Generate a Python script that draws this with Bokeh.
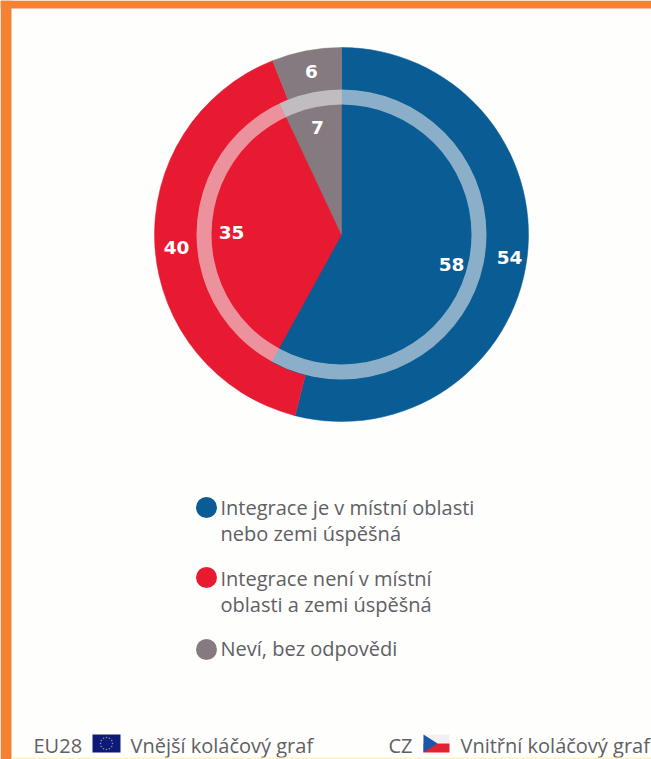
from bokeh.plotting import figure
from bokeh.models import Range1d
from bokeh.core.properties import value
from bokeh.embed import file_html
from bokeh.resources import INLINE
import math

# --- data ---
categories = ["Integrace je v místní oblasti nebo zemi úspěšná",
              "Integrace není v místní oblasti a zemi úspěšná",
              "Neví, bez odpovědi"]
outer_eu28 = [54, 40, 6]
inner_cz = [58, 35, 7]
colors = ["#0a5c94", "#e71a32", "#857a7f"]

legend_lines = [["Integrace je v místní oblasti", "nebo zemi úspěšná"],
                ["Integrace není v místní", "oblasti a zemi úspěšná"],
                ["Neví, bez odpovědi"]]
footer_left = ["EU28", "Vnější koláčový graf"]
footer_right = ["CZ", "Vnitřní koláčový graf"]

# --- layout (screen pixels) ---
W, H = 651, 759
cx, cy = 341, -234
R_out, R_in = 187, 145
R_ring = 130
FONT = value("Open Sans")
NUM_FONT = value("DejaVu Sans")
ORANGE = "#f58233"

p = figure(width=W, height=H, output_backend="svg", toolbar_location=None,
           x_range=Range1d(0, W), y_range=Range1d(-H, 0), min_border=0,
           outline_line_color=None, background_fill_color="#fefefd",
           border_fill_color="#fefefd")
p.axis.visible = False
p.grid.visible = False


def pie(vals, radius):
    a = math.pi / 2
    tot = sum(vals)
    for v, c in zip(vals, colors):
        b = a - 2 * math.pi * v / tot
        p.wedge(x=[cx], y=[cy], radius=radius, start_angle=[a], end_angle=[b],
                direction="clock", fill_color=c, line_color=c, line_width=0.5)
        a = b


pie(outer_eu28, R_out)
pie(inner_cz, R_in)
# the pale ring lying over the rim of the inner pie
p.annulus(x=[cx], y=[cy], inner_radius=R_ring, outer_radius=R_in,
          fill_color="#f0f0f0", fill_alpha=0.56, line_color=None)


def label(x, y, t, size="20px", style="normal", color="#5f6064", align="left", font=FONT):
    p.text(x=[x], y=[-y], text=[t], text_font=font, text_font_size=size,
           text_font_style=style, text_color=color, text_align=align,
           text_baseline="middle")


# value labels: outer, inner
for (x, y), v in zip([(509, 257), (176, 247), (311, 71)], outer_eu28):
    label(x, y, str(v), "18.5px", "bold", "white", "center", NUM_FONT)
for (x, y), v in zip([(451, 264), (231, 232), (317, 127)], inner_cz):
    label(x, y, str(v), "18.5px", "bold", "white", "center", NUM_FONT)

# legend
for yd, c in zip([507, 577, 649], colors):
    p.scatter(x=[206], y=[-yd], size=21, fill_color=c, line_color=None)
for ys, lines in zip([[507, 533], [578, 604], [648]], legend_lines):
    for y, t in zip(ys, lines):
        label(220, y, t)

# footer
for x, t in zip([33, 130], footer_left):
    label(x, 745, t)
for x, t in zip([388, 460], footer_right):
    label(x, 745, t)

# EU flag
p.quad(left=[92], right=[120], top=[-734], bottom=[-752], fill_color="#0d1a78", line_color=None)
n = 12
p.scatter(x=[106 + 6 * math.cos(2 * math.pi * i / n) for i in range(n)],
          y=[-743 + 6 * math.sin(2 * math.pi * i / n) for i in range(n)],
          size=1.6, fill_color="#8f9a70", line_color=None)
# CZ flag
p.quad(left=[423], right=[449], top=[-734], bottom=[-743], fill_color="#f1f1f4", line_color=None)
p.quad(left=[423], right=[449], top=[-743], bottom=[-752], fill_color="#e3222f", line_color=None)
p.patch(x=[423, 437, 423], y=[-734, -743, -752], fill_color="#1c56a8", line_color=None)

# page frame
p.quad(left=[0], right=[11], top=[0], bottom=[-H], fill_color=ORANGE, line_color=None)
p.quad(left=[0], right=[W], top=[0], bottom=[-8], fill_color=ORANGE, line_color=None)
p.quad(left=[11], right=[W], top=[-757], bottom=[-H], fill_color="#fdf3c4", line_color=None)

open("out.html", "w").write(file_html(p, INLINE))
